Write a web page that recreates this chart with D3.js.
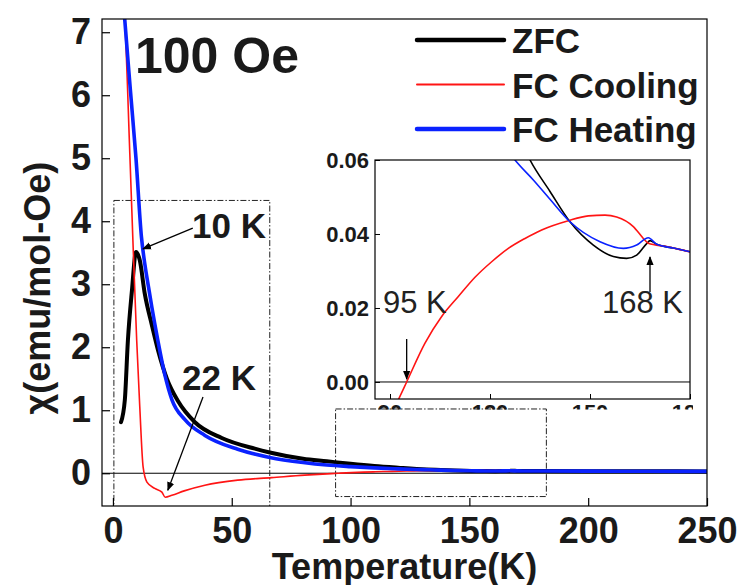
<!DOCTYPE html>
<html>
<head>
<meta charset="utf-8">
<script src="https://cdn.jsdelivr.net/npm/d3@7"></script>
<style>
  body { margin: 0; background: #fff; }
  svg { font-family: "Liberation Sans", Arial, sans-serif; }
</style>
</head>
<body>
<svg id="chart" width="738" height="585"></svg>
<script>
// ZFC
const tZFC   = [3.4, 5.0, 6.3, 8.0, 9.7, 11.3, 13.4, 16.4, 19.0, 22.7, 27.3, 34.5, 45.8, 59.7, 66, 80, 90, 100, 110, 120, 132, 138, 144, 151, 157, 161, 164, 167, 168, 170, 175, 180, 200, 225, 250];
const chiZFC = [0.81, 1.16, 2.11, 2.90, 3.51, 3.38, 2.85, 2.35, 1.95, 1.50, 1.15, 0.81, 0.56, 0.39, 0.33, 0.23, 0.19, 0.15, 0.115, 0.088, 0.06, 0.0515, 0.0433, 0.037, 0.0339, 0.0334, 0.0343, 0.0374, 0.0382, 0.0372, 0.0362, 0.0352, 0.033, 0.031, 0.029];
// FC cooling
const tFCC   = [4.5, 5.0, 7.1, 8.4, 10.0, 11.3, 12.7, 14.3, 17.6, 20.6, 22.0, 24.8, 30, 38.7, 52.5, 66.8, 80.7, 92, 95, 100.5, 105.5, 110.5, 115.5, 120.5, 125.5, 130.5, 135.5, 143.5, 149.5, 154.5, 158, 163, 166, 167.5, 173, 180, 200, 225, 250];
const chiFCC = [7.5, 7.19, 5.08, 3.70, 2.11, 1.05, 0.10, -0.14, -0.24, -0.30, -0.38, -0.35, -0.28, -0.19, -0.11, -0.07, -0.03, -0.0058, 0, 0.0105, 0.0177, 0.0231, 0.0283, 0.0325, 0.0361, 0.0388, 0.0411, 0.0436, 0.0449, 0.0451, 0.0446, 0.042, 0.0388, 0.0375, 0.0366, 0.0352, 0.033, 0.031, 0.029];
// FC heating
const tFCH   = [4.5, 5.0, 7.3, 9.7, 12.0, 13.5, 15.0, 16.4, 18.9, 21.8, 24.8, 30.3, 38.7, 52.5, 66, 80, 90, 100, 110, 120, 127.5, 133, 138, 144, 153, 160, 164, 167.5, 170, 175, 180, 200, 225, 250];
const chiFCH = [7.45, 7.19, 6.1, 5.0, 3.75, 3.3, 2.95, 2.63, 2.11, 1.57, 1.17, 0.85, 0.60, 0.38, 0.25, 0.17, 0.13, 0.105, 0.085, 0.07, 0.06, 0.0546, 0.0494, 0.0433, 0.0379, 0.0361, 0.037, 0.039, 0.0372, 0.0362, 0.0352, 0.033, 0.031, 0.029];

const xTicks = [0, 50, 100, 150, 200, 250];
const yTicks = [0, 1, 2, 3, 4, 5, 6, 7];
const insetXTicks = [90, 120, 150, 180];
const insetYTicks = [0, 0.02, 0.04, 0.06];

const seriesNames = ['ZFC', 'FC Cooling', 'FC Heating'];
const seriesColors = ['#000000', '#ff1414', '#0a22ff'];

// zoom boxes [T0, T1, chi0, chi1]
const zoomBoxes = [[0.4, 66, -0.6, 4.33], [93.7, 182.4, -0.37, 1.02]];

const series = [
  {name: seriesNames[0], color: seriesColors[0], t: tZFC, v: chiZFC, w: 4},
  {name: seriesNames[1], color: seriesColors[1], t: tFCC, v: chiFCC, w: 1.6},
  {name: seriesNames[2], color: seriesColors[2], t: tFCH, v: chiFCH, w: 3.6}
];

const W = 738, H = 585;
const margin = {top: 19, right: 31, bottom: 79, left: 102};
const svg = d3.select('#chart');

const x = d3.scaleLinear().domain([-4.6, 250]).range([margin.left, W - margin.right]);
const y = d3.scaleLinear().domain([-0.52, 7.21]).range([H - margin.bottom, margin.top]);

const defs = svg.append('defs');
defs.append('clipPath').attr('id', 'mainClip').append('rect')
  .attr('x', margin.left).attr('y', margin.top)
  .attr('width', W - margin.right - margin.left).attr('height', H - margin.bottom - margin.top);
defs.append('marker').attr('id', 'arr').attr('viewBox', '0 0 10 10')
  .attr('refX', 9).attr('refY', 5).attr('markerWidth', 9).attr('markerHeight', 9)
  .attr('markerUnits', 'userSpaceOnUse').attr('orient', 'auto')
  .append('path').attr('d', 'M0,1 L10,5 L0,9 Z').attr('fill', '#000');

// zero line
svg.append('line').attr('x1', margin.left).attr('x2', W - margin.right)
  .attr('y1', y(0)).attr('y2', y(0)).attr('stroke', '#000').attr('stroke-width', 1);

// zoom boxes
svg.append('g').attr('clip-path', 'url(#mainClip)').selectAll('rect').data(zoomBoxes).enter().append('rect')
  .attr('x', d => x(d[0])).attr('y', d => y(d[3]))
  .attr('width', d => x(d[1]) - x(d[0])).attr('height', d => y(d[2]) - y(d[3]))
  .attr('fill', 'none').attr('stroke', '#222').attr('stroke-width', 1)
  .attr('stroke-dasharray', '6,2,1.5,2');

const line = d3.line().x(d => x(d[0])).y(d => y(d[1])).curve(d3.curveMonotoneX);
const gLines = svg.append('g').attr('clip-path', 'url(#mainClip)');
series.forEach(s => {
  gLines.append('path').datum(s.t.map((t, i) => [t, s.v[i]]))
    .attr('d', line).attr('fill', 'none').attr('stroke', s.color)
    .attr('stroke-width', s.w).attr('stroke-linejoin', 'round').attr('stroke-linecap', 'round');
});

// axes
const xAxis = svg.append('g').attr('transform', `translate(0,${H - margin.bottom})`)
  .call(d3.axisBottom(x).tickValues(xTicks).tickSizeInner(-8).tickSizeOuter(0).tickPadding(11));
const yAxis = svg.append('g').attr('transform', `translate(${margin.left},0)`)
  .call(d3.axisLeft(y).tickValues(yTicks).tickSizeInner(-8).tickSizeOuter(0).tickPadding(11));
[xAxis, yAxis].forEach(a => {
  a.select('.domain').remove();
  a.selectAll('.tick line').attr('stroke', '#000').attr('stroke-width', 1.2);
  a.selectAll('.tick text').attr('font-size', 36).attr('font-weight', 'bold').attr('fill', '#1a1a1a')
    .attr('font-family', '"Liberation Sans", Arial, sans-serif');
});
yAxis.selectAll('.tick text').attr('dy', '0.32em');

svg.append('rect').attr('x', margin.left).attr('y', margin.top)
  .attr('width', W - margin.right - margin.left).attr('height', H - margin.bottom - margin.top)
  .attr('fill', 'none').attr('stroke', '#000').attr('stroke-width', 1.2);

// axis titles
svg.append('text').attr('x', (margin.left + W - margin.right) / 2).attr('y', 579)
  .attr('text-anchor', 'middle').attr('font-size', 36).attr('font-weight', 'bold').attr('fill', '#1a1a1a')
  .text('Temperature(K)');
svg.append('text').attr('transform', 'translate(50,288) rotate(-90)')
  .attr('text-anchor', 'middle').attr('font-size', 36).attr('font-weight', 'bold').attr('fill', '#1a1a1a')
  .text('χ(emu/mol-Oe)');

// annotations
svg.append('text').attr('x', 135).attr('y', 73).attr('font-size', 50).attr('font-weight', 'bold')
  .attr('fill', '#1a1a1a').text('100 Oe');
svg.append('text').attr('x', 192).attr('y', 238).attr('font-size', 35).attr('font-weight', 'bold')
  .attr('fill', '#1a1a1a').text('10 K');
svg.append('text').attr('x', 182).attr('y', 390).attr('font-size', 35).attr('font-weight', 'bold')
  .attr('fill', '#1a1a1a').text('22 K');
const mainArrows = [[33.6, 3.89, 12.6, 3.56], [37.9, 1.21, 23.1, -0.27]];
svg.selectAll('.marrow').data(mainArrows).enter().append('line').attr('class', 'marrow')
  .attr('x1', d => x(d[0])).attr('y1', d => y(d[1])).attr('x2', d => x(d[2])).attr('y2', d => y(d[3]))
  .attr('stroke', '#000').attr('stroke-width', 1.3).attr('marker-end', 'url(#arr)');

// legend
const leg = svg.append('g');
series.forEach((s, i) => {
  const yy = 53 + i * 44.5;
  leg.append('line').attr('x1', 417).attr('x2', 504).attr('y1', yy - 13).attr('y2', yy - 13)
    .attr('stroke', s.color).attr('stroke-width', i === 1 ? 2 : 4.5).attr('stroke-linecap', 'round');
  leg.append('text').attr('x', 512).attr('y', yy).attr('font-size', 35).attr('font-weight', 'bold')
    .attr('fill', '#1a1a1a').text(s.name);
});

// inset
const ins = {left: 375, right: 690, top: 160, bottom: 399};
const xi = d3.scaleLinear().domain([85.5, 180]).range([ins.left, ins.right]);
const yi = d3.scaleLinear().domain([-0.0046, 0.06]).range([ins.bottom, ins.top]);
defs.append('clipPath').attr('id', 'insClip').append('rect')
  .attr('x', ins.left).attr('y', ins.top).attr('width', ins.right - ins.left).attr('height', ins.bottom - ins.top);
defs.append('clipPath').attr('id', 'insLabClip').append('rect')
  .attr('x', ins.left).attr('y', 403).attr('width', ins.right - ins.left + 3).attr('height', 6.5);

const gi = svg.append('g');
gi.append('rect').attr('x', ins.left).attr('y', ins.top).attr('width', ins.right - ins.left)
  .attr('height', ins.bottom - ins.top).attr('fill', '#fff');
gi.append('line').attr('x1', ins.left).attr('x2', ins.right).attr('y1', yi(0)).attr('y2', yi(0))
  .attr('stroke', '#000').attr('stroke-width', 1);
const lineI = d3.line().x(d => xi(d[0])).y(d => yi(d[1])).curve(d3.curveMonotoneX);
const gInsLines = gi.append('g').attr('clip-path', 'url(#insClip)');
series.forEach(s => {
  const pts = s.t.map((t, i) => [t, s.v[i]]).filter(d => d[0] >= 66 && d[0] <= 200);
  gInsLines.append('path').datum(pts).attr('d', lineI).attr('fill', 'none')
    .attr('stroke', s.color).attr('stroke-width', 1.6);
});
const ixAxis = gi.append('g').attr('transform', `translate(0,${ins.bottom})`)
  .call(d3.axisBottom(xi).tickValues(insetXTicks).tickSizeInner(-5).tickSizeOuter(0));
const iyAxis = gi.append('g').attr('transform', `translate(${ins.left},0)`)
  .call(d3.axisLeft(yi).tickValues(insetYTicks).tickSizeInner(-5).tickSizeOuter(0).tickPadding(6)
    .tickFormat(d3.format('.2f')));
[ixAxis, iyAxis].forEach(a => {
  a.select('.domain').remove();
  a.selectAll('.tick line').attr('stroke', '#000');
  a.selectAll('.tick text').attr('font-size', 22).attr('font-weight', 'bold').attr('fill', '#1a1a1a')
    .attr('font-family', '"Liberation Sans", Arial, sans-serif');
});
iyAxis.selectAll('.tick text').attr('dy', '0.35em');
// inset x labels are mostly hidden behind the zoom box: only a thin strip shows
ixAxis.selectAll('.tick text').remove();
const labG = svg.append('g').attr('clip-path', 'url(#insLabClip)');
insetXTicks.forEach(v => {
  labG.append('text').attr('x', xi(v)).attr('y', 420).attr('text-anchor', 'middle')
    .attr('font-size', 22).attr('font-weight', 'bold').attr('fill', '#1a1a1a').text(v);
});

gi.append('rect').attr('x', ins.left).attr('y', ins.top).attr('width', ins.right - ins.left)
  .attr('height', ins.bottom - ins.top).attr('fill', 'none').attr('stroke', '#000').attr('stroke-width', 1.2);

gi.append('text').attr('x', 383).attr('y', 313).attr('font-size', 31).attr('fill', '#222').text('95 K');
gi.append('text').attr('x', 602).attr('y', 313).attr('font-size', 31).attr('fill', '#222').text('168 K');
const insArrows = [[95, 0.0116, 95, 0.0008], [168, 0.0243, 168, 0.0338]];
gi.selectAll('.iarrow').data(insArrows).enter().append('line').attr('class', 'iarrow')
  .attr('x1', d => xi(d[0])).attr('y1', d => yi(d[1])).attr('x2', d => xi(d[2])).attr('y2', d => yi(d[3]))
  .attr('stroke', '#000').attr('stroke-width', 1.3).attr('marker-end', 'url(#arr)');
</script>
</body>
</html>
